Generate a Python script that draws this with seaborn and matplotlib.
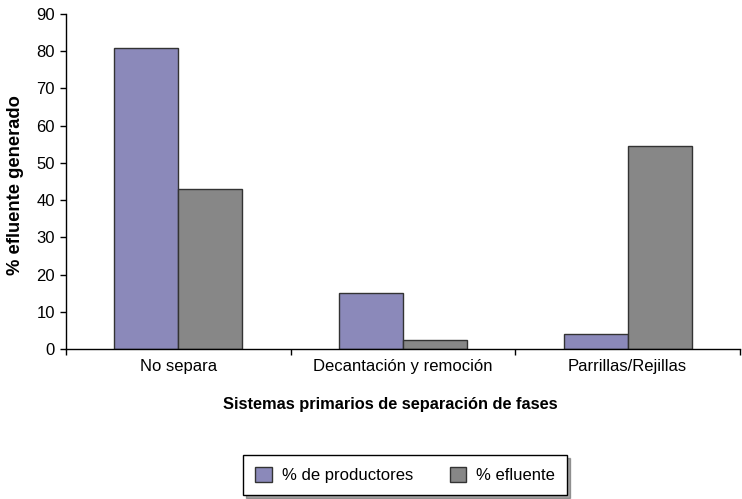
import matplotlib
matplotlib.use("Agg")
import matplotlib.pyplot as plt
import seaborn as sns
import pandas as pd
from matplotlib.ticker import FixedLocator
from matplotlib.patches import Patch

categories = ["No separa", "Decantación y remoción", "Parrillas/Rejillas"]
series_names = ["% de productores", "% efluente"]
productores = [81, 15, 4]
efluente = [43, 2.4, 54.6]
colors = ["#8B89BA", "#878787"]

sns.set_style("white")
plt.rcParams['font.family'] = ['Liberation Sans', 'DejaVu Sans']
plt.rcParams['text.color'] = 'black'
plt.rcParams['axes.labelcolor'] = 'black'
plt.rcParams['xtick.color'] = 'black'
plt.rcParams['ytick.color'] = 'black'

df = pd.DataFrame({
    "cat": categories * 2,
    "serie": [series_names[0]] * 3 + [series_names[1]] * 3,
    "val": productores + efluente,
})

fig = plt.figure(figsize=(7.42, 4.99), dpi=100)
ax = fig.add_axes([66/742, 1 - 349/499, (740 - 66)/742, (349 - 14)/499])
sns.barplot(data=df, x="cat", y="val", hue="serie", order=categories,
            hue_order=series_names, palette=colors, width=0.57,
            edgecolor="#333333", linewidth=1, saturation=1, ax=ax, legend=False)

ax.set_ylim(0, 90)
ax.set_xlim(-0.5, 2.5)
ax.set_yticks(range(0, 91, 10))
ax.tick_params(axis='y', direction='out', length=4, width=1, colors='black',
               labelsize=12, pad=4, left=True)
ax.tick_params(axis='x', which='major', length=0, labelsize=12, pad=7, colors='black')
ax.xaxis.set_minor_locator(FixedLocator([-0.5, 0.5, 1.5, 2.5]))
ax.tick_params(axis='x', which='minor', direction='out', length=4, width=1,
               color='black', bottom=True)
for s in ["top", "right"]:
    ax.spines[s].set_visible(False)
for s in ["left", "bottom"]:
    ax.spines[s].set_color("black")
    ax.spines[s].set_linewidth(1)

ax.set_xlabel("Sistemas primarios de separación de fases", fontsize=11.8,
              fontweight="bold", color="black")
ax.xaxis.set_label_coords((390 - 66) / 674, -(405 - 349) / 335)
ax.xaxis.label.set_va("center")
ax.set_ylabel("% efluente generado", fontsize=13.2, fontweight="bold", color="black")
ax.yaxis.set_label_coords(-(66 - 16) / 674, (349 - 185) / 335)
ax.yaxis.label.set_va("center")

handles = [Patch(facecolor=c, edgecolor="#333333", linewidth=1) for c in colors]
leg = fig.legend(handles, series_names, loc="center", bbox_to_anchor=(405/742, 1 - 475/499),
                 ncol=2, frameon=True, fancybox=False, shadow=True, fontsize=12,
                 handlelength=1.0, handleheight=1.0, columnspacing=2.2,
                 borderpad=0.7, handletextpad=0.6, edgecolor="black")
leg.get_frame().set_linewidth(1)
for t in leg.get_texts():
    t.set_color("black")

fig.savefig("out.png", dpi=100)
